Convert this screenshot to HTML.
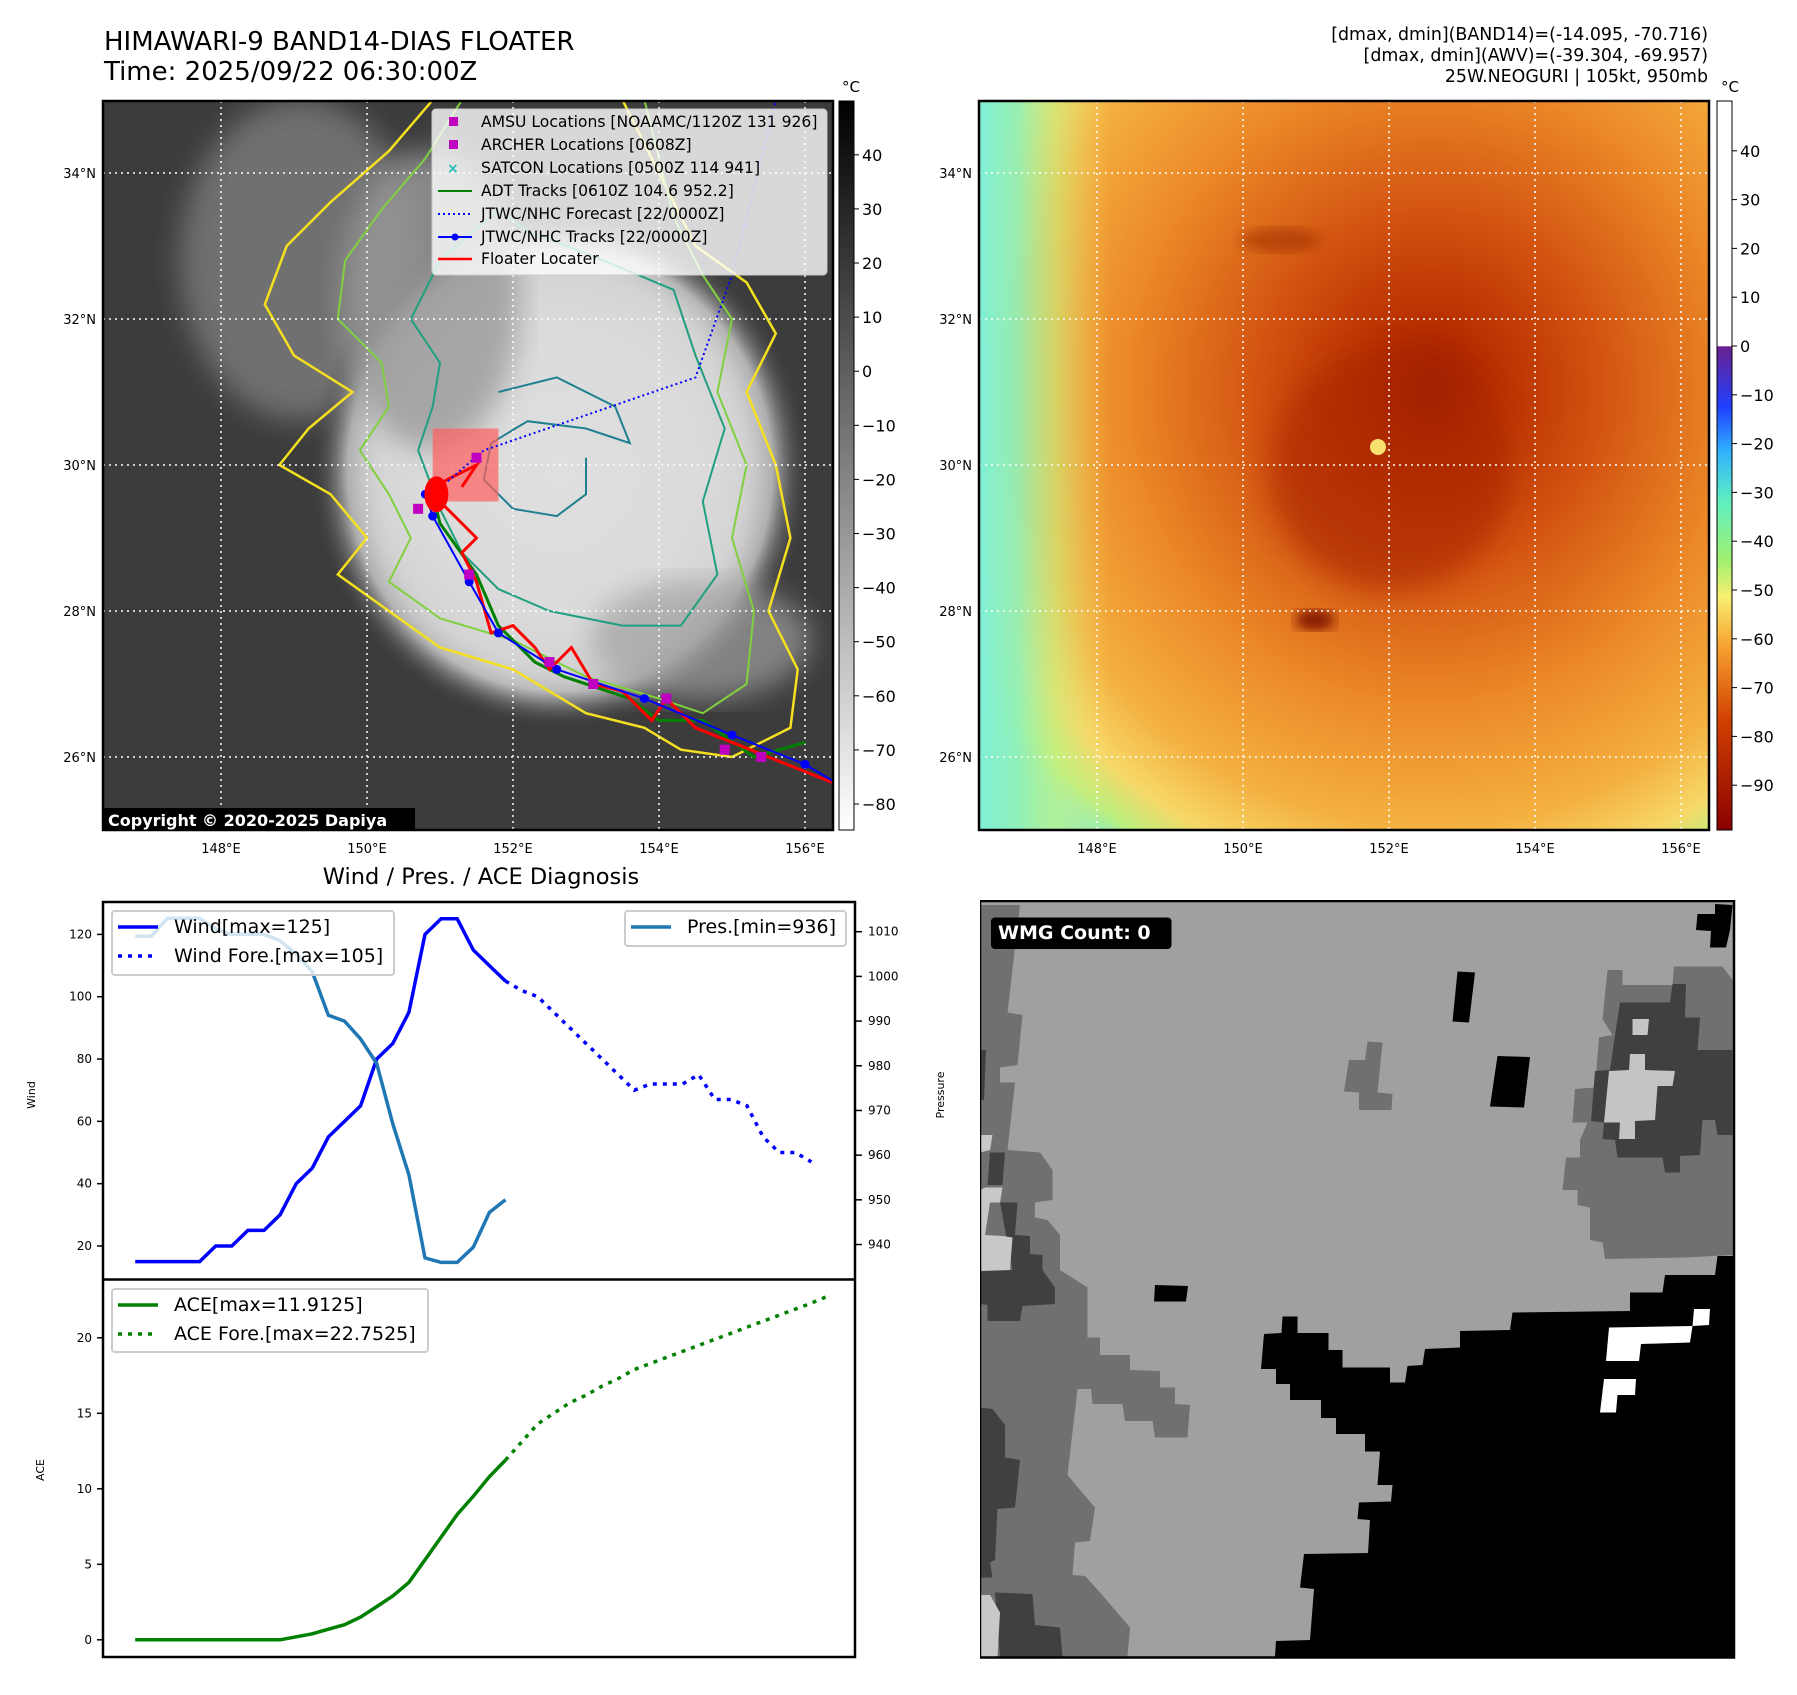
<!DOCTYPE html>
<html><head><meta charset="utf-8">
<style>
html,body{margin:0;padding:0;background:#fff;}
body{width:1797px;height:1690px;position:relative;overflow:hidden;font-family:"Liberation Sans","DejaVu Sans",sans-serif;}
svg text{font-family:"DejaVu Sans","Liberation Sans",sans-serif;}
</style></head>
<body>
<svg id="root" width="1797" height="1690" viewBox="0 0 1797 1690" xmlns="http://www.w3.org/2000/svg">
<defs>
  <filter id="blur6"><feGaussianBlur stdDeviation="6"/></filter>
  <filter id="blur14"><feGaussianBlur stdDeviation="14"/></filter>
  <radialGradient id="cloud" cx="0.5" cy="0.5" r="0.5">
    <stop offset="0" stop-color="#eeeeee"/>
    <stop offset="0.55" stop-color="#d8d8d8"/>
    <stop offset="0.85" stop-color="#a8a8a8"/>
    <stop offset="1" stop-color="#3c3c3c" stop-opacity="0"/>
  </radialGradient>
  <radialGradient id="awv" cx="0.5" cy="0.5" r="0.5">
    <stop offset="0" stop-color="#9a1800"/>
    <stop offset="0.12" stop-color="#b83000"/>
    <stop offset="0.3" stop-color="#d25210"/>
    <stop offset="0.55" stop-color="#ec8a28"/>
    <stop offset="0.75" stop-color="#f4b040"/>
    <stop offset="0.86" stop-color="#f6d868"/>
    <stop offset="0.93" stop-color="#b8f080"/>
    <stop offset="1" stop-color="#80f0d8" stop-opacity="0"/>
  </radialGradient>
  <linearGradient id="leftEdge" x1="0" y1="0" x2="1" y2="0">
    <stop offset="0" stop-color="#80f0d8" stop-opacity="1"/>
    <stop offset="0.3" stop-color="#90f0b8" stop-opacity="0.9"/>
    <stop offset="0.6" stop-color="#c8f080" stop-opacity="0.6"/>
    <stop offset="1" stop-color="#f6e070" stop-opacity="0"/>
  </linearGradient>
  <linearGradient id="cbGray" x1="0" y1="0" x2="0" y2="1">
    <stop offset="0" stop-color="#000"/><stop offset="1" stop-color="#fff"/>
  </linearGradient>
  <linearGradient id="cbAwv" x1="0" y1="0" x2="0" y2="1">
    <stop offset="0" stop-color="#ffffff"/><stop offset="0.336" stop-color="#ffffff"/>
    <stop offset="0.337" stop-color="#6a2090"/><stop offset="0.42" stop-color="#2040ff"/>
    <stop offset="0.48" stop-color="#30b0ff"/><stop offset="0.55" stop-color="#60f0c0"/>
    <stop offset="0.63" stop-color="#a0f070"/><stop offset="0.68" stop-color="#f8f070"/>
    <stop offset="0.75" stop-color="#f8a030"/><stop offset="0.85" stop-color="#d04000"/>
    <stop offset="1" stop-color="#8a0000"/>
  </linearGradient>
  <clipPath id="clipL"><rect x="103" y="101" width="730" height="729"/></clipPath>
  <clipPath id="clipR"><rect x="979" y="101" width="730" height="729"/></clipPath>
</defs>

<text x="104" y="50" font-size="26">HIMAWARI-9 BAND14-DIAS FLOATER</text>
<text x="104" y="80" font-size="26">Time: 2025/09/22 06:30:00Z</text>
<g font-size="17.4" text-anchor="end">
  <text x="1708" y="40">[dmax, dmin](BAND14)=(-14.095, -70.716)</text>
  <text x="1708" y="61">[dmax, dmin](AWV)=(-39.304, -69.957)</text>
  <text x="1708" y="82">25W.NEOGURI | 105kt, 950mb</text>
</g>

<g id="leftMap" clip-path="url(#clipL)">
  <rect x="103" y="101" width="730" height="729" fill="#3c3c3c"/>
  <ellipse cx="300" cy="260" rx="120" ry="160" fill="#707070" filter="url(#blur14)"/>
  <ellipse cx="560" cy="470" rx="250" ry="260" fill="url(#cloud)"/>
  <ellipse cx="560" cy="470" rx="200" ry="220" fill="#dcdcdc" filter="url(#blur14)" opacity="0.8"/>
  <ellipse cx="430" cy="300" rx="90" ry="150" fill="#9a9a9a" filter="url(#blur14)" opacity="0.8"/>
  <ellipse cx="700" cy="640" rx="110" ry="60" fill="#a0a0a0" filter="url(#blur14)" opacity="0.7"/>
</g>
<g id="leftOverlay" clip-path="url(#clipL)"></g>
<rect x="103" y="101" width="730" height="729" fill="none" stroke="#000" stroke-width="2.5"/>
<g>
  <rect x="103" y="808" width="312" height="23" fill="#000"/>
  <text x="108" y="826" font-size="16" font-weight="bold" fill="#fff">Copyright © 2020-2025 Dapiya</text>
</g>

<g>
  <rect x="432" y="109" width="395" height="166" rx="4" fill="#fff" fill-opacity="0.8" stroke="#ccc"/>
  <g font-size="15.6">
    <rect x="449" y="117" width="9" height="9" fill="#c000c0"/><text x="481" y="127">AMSU Locations [NOAAMC/1120Z 131 926]</text>
    <rect x="449" y="140" width="9" height="9" fill="#c000c0"/><text x="481" y="150">ARCHER Locations [0608Z]</text>
    <text x="447" y="173" font-size="14" fill="#20c0c0" font-weight="bold">×</text><text x="481" y="173">SATCON Locations [0500Z 114 941]</text>
    <line x1="438" y1="191" x2="472" y2="191" stroke="#008000" stroke-width="2"/><text x="481" y="196">ADT Tracks [0610Z 104.6 952.2]</text>
    <line x1="438" y1="214" x2="472" y2="214" stroke="#0000ff" stroke-width="2" stroke-dasharray="2 3"/><text x="481" y="219">JTWC/NHC Forecast [22/0000Z]</text>
    <line x1="438" y1="237" x2="472" y2="237" stroke="#0000ff" stroke-width="2"/><circle cx="455" cy="237" r="3.5" fill="#0000ff"/><text x="481" y="242">JTWC/NHC Tracks [22/0000Z]</text>
    <line x1="438" y1="259" x2="472" y2="259" stroke="#ff0000" stroke-width="2.5"/><text x="481" y="264">Floater Locater</text>
  </g>
</g>

<rect x="839" y="101" width="15" height="729" fill="url(#cbGray)" stroke="#000" stroke-width="1"/>
<text x="851" y="92" font-size="15" text-anchor="middle">°C</text>
<g id="cbL" font-size="16"></g>

<g clip-path="url(#clipR)">
  <rect x="979" y="101" width="730" height="729" fill="#80f0d8"/>
  <ellipse cx="1090" cy="760" rx="180" ry="160" fill="#90f0b0" filter="url(#blur14)" opacity="0.6"/>
  <ellipse cx="1430" cy="390" rx="560" ry="580" fill="url(#awv)"/>
  <rect x="979" y="101" width="130" height="729" fill="url(#leftEdge)"/>
  <ellipse cx="1390" cy="470" rx="120" ry="120" fill="#a82800" filter="url(#blur14)" opacity="0.6"/>
  <circle cx="1378" cy="447" r="8" fill="#f8e070"/>
  <ellipse cx="1315" cy="620" rx="20" ry="10" fill="#801400" filter="url(#blur6)"/>
  <ellipse cx="1280" cy="240" rx="40" ry="12" fill="#a03000" filter="url(#blur6)" opacity="0.6"/>
</g>
<g id="rightOverlay" clip-path="url(#clipR)"></g>
<rect x="979" y="101" width="730" height="729" fill="none" stroke="#000" stroke-width="2.5"/>
<rect x="1717" y="101" width="15" height="729" fill="url(#cbAwv)" stroke="#000" stroke-width="1"/>
<text x="1730" y="92" font-size="15" text-anchor="middle">°C</text>
<g id="cbR" font-size="16"></g>

<text x="481" y="884" font-size="22.5" text-anchor="middle">Wind / Pres. / ACE Diagnosis</text>
<g id="chart"></g>

<g>
<svg x="980" y="900" width="780" height="780" viewBox="0 0 1560 1560">
  <rect x="0" y="0" width="1508" height="1513" fill="#a0a0a0"/>
  <polygon fill="#707070" points="0,10 80,10 55,225 85,230 75,330 40,335 40,365 70,365 55,500 120,505 145,540 145,600 110,605 110,635 135,640 160,670 160,740 215,775 215,875 240,875 240,910 300,910 300,940 360,942 360,975 390,975 390,1008 420,1010 415,1075 350,1075 345,1042 290,1042 285,1008 225,1008 222,978 195,978 175,1150 200,1180 230,1215 220,1282 190,1285 185,1350 210,1352 240,1385 270,1420 300,1455 295,1513 0,1513"/>
  <polygon fill="#404040" points="20,505 50,505 45,570 15,570"/>
  <polygon fill="#404040" points="40,605 75,605 70,670 100,672 100,708 125,710 125,740 150,775 150,808 85,812 80,842 15,842 15,810 0,808 0,742 65,740"/>
  <polygon fill="#404040" points="0,1015 25,1018 50,1050 50,1115 80,1120 70,1215 35,1218 30,1320 20,1325 25,1355 0,1355"/>
  <polygon fill="#404040" points="30,1385 105,1388 110,1450 160,1455 165,1513 40,1513"/>
  <polygon fill="#404040" points="0,300 12,300 8,400 0,400"/>
  <polygon fill="#c8c8c8" points="0,470 25,470 20,500 0,505"/>
  <polygon fill="#c8c8c8" points="10,575 45,575 40,605 20,605 10,670 45,672 65,675 60,740 0,742 0,580"/>
  <polygon fill="#c8c8c8" points="0,1390 20,1390 40,1425 35,1513 0,1513"/>
  <polygon fill="#707070" points="1255,140 1285,140 1285,170 1385,170 1388,133 1485,133 1505,160 1505,710 1410,715 1250,718 1245,685 1220,680 1220,615 1195,610 1195,580 1165,580 1172,515 1200,515 1200,480 1215,445 1185,445 1190,378 1230,375 1238,275 1265,270 1245,238"/>
  <polygon fill="#404040" points="1280,205 1380,205 1385,168 1412,168 1410,235 1440,235 1435,300 1505,300 1505,470 1475,470 1470,440 1445,440 1440,510 1400,512 1400,545 1370,545 1365,515 1275,515 1270,480 1245,478 1248,445 1222,442 1230,342 1260,340 1270,270"/>
  <polygon fill="#c4c4c4" points="1305,238 1338,238 1335,270 1305,270"/>
  <polygon fill="#c4c4c4" points="1300,308 1330,308 1330,340 1390,342 1385,372 1355,372 1350,440 1310,442 1310,478 1278,478 1280,445 1248,445 1258,342 1298,340"/>
  <polygon fill="#707070" points="775,283 805,285 795,385 825,388 823,420 758,420 758,385 728,383 738,320 770,320"/>
  <polygon fill="#000" points="955,143 990,145 978,245 945,243"/>
  <polygon fill="#000" points="1035,312 1100,314 1088,415 1020,413"/>
  <polygon fill="#000" points="350,770 416,772 412,803 348,803"/>
  <polygon fill="#000" points="1435,28 1470,28 1470,8 1505,10 1500,60 1492,95 1460,95 1462,62 1432,60"/>
  <polygon fill="#000" points="1508,712 1475,712 1470,750 1370,750 1365,785 1300,785 1300,822 1065,825 1060,860 960,862 960,895 890,898 885,930 855,932 850,965 820,965 820,935 725,935 725,900 697,900 697,866 635,866 635,833 605,833 603,866 568,868 562,938 592,938 592,968 620,968 620,1000 682,1000 682,1036 712,1036 712,1068 770,1068 770,1103 800,1103 795,1170 825,1170 822,1203 758,1205 755,1238 780,1240 776,1306 648,1308 640,1375 668,1378 660,1480 592,1482 590,1513 1508,1513"/>
  <polygon fill="#fff" points="1258,855 1425,852 1420,885 1322,888 1318,922 1252,922"/>
  <polygon fill="#fff" points="1428,818 1460,818 1458,850 1425,852"/>
  <polygon fill="#fff" points="1248,958 1312,958 1310,990 1275,990 1272,1025 1240,1025"/>
  <rect x="0" y="2" width="1508" height="1513" fill="none" stroke="#000" stroke-width="5"/>
  <rect x="22" y="35" width="361" height="63" rx="8" fill="#000"/>
  <text x="36" y="78" font-size="38" font-weight="bold" fill="#fff">WMG Count: 0</text>
</svg>
</g>
</svg>

<script>
// ===== chart data =====
const windObs = [15,15,15,15,15,20,20,25,25,30,40,45,55,60,65,80,85,95,120,125,125,115,110,105];
const windFore = [105,102,100,95,90,85,80,75,70,72,72,72,75,67,67,65,55,50,50,47];
const presObs = [1009,1009,1013,1013,1013,1010.6,1009.4,1009.4,1009.4,1008,1005,1001,991.3,990,986,980.5,967,955.6,937,936,936,939.4,947.2,950];
const aceObs = [0,0,0,0,0,0,0,0,0,0,0.2,0.4,0.7,1.0,1.5,2.2,2.9,3.8,5.3,6.8,8.3,9.5,10.8,11.9];
const aceFore = [11.9,13.1,14.3,15.0,15.7,16.2,16.8,17.3,17.9,18.3,18.7,19.1,19.5,19.9,20.3,20.7,21.1,21.5,21.9,22.3,22.75];
const windTicks = [20,40,60,80,100,120];
const presTicks = [940,950,960,970,980,990,1000,1010];
const aceTicks = [0,5,10,15,20];
const irTicks = [40,30,20,10,0,-10,-20,-30,-40,-50,-60,-70,-80];
const awvTicks = [40,30,20,10,0,-10,-20,-30,-40,-50,-60,-70,-80,-90];
// ===== map data (lon, lat) =====
const jtwcTrack = [[156.5,25.6],[156.0,25.9],[155.0,26.3],[153.8,26.8],[152.6,27.2],[151.8,27.7],[151.4,28.4],[150.9,29.3],[150.8,29.6]];
const jtwcFore = [[150.9,29.6],[151.6,30.2],[154.5,31.2],[155.0,32.6],[155.6,35.0]];
const adtTrack = [[156.0,26.2],[155.3,26.0],[154.6,26.5],[154.0,26.5],[153.6,26.8],[152.7,27.1],[152.3,27.3],[151.8,27.8],[151.5,28.5],[151.0,29.2],[150.9,29.6]];
const floaterTrack = [[156.5,25.6],[155.5,26.0],[154.5,26.4],[154.1,26.8],[153.9,26.5],[153.5,26.9],[153.1,27.0],[152.8,27.5],[152.5,27.2],[152.3,27.5],[152.0,27.8],[151.7,27.7],[151.5,28.4],[151.3,28.8],[151.5,29.0],[151.2,29.3],[151.0,29.5],[150.8,29.6],[151.1,29.8],[151.5,30.0],[151.3,29.7]];
const amsuPts = [[150.7,29.4],[151.5,30.1],[151.4,28.5],[154.9,26.1],[155.4,26.0],[153.1,27.0],[154.1,26.8],[152.5,27.3]];
const yellowContour = [[150.9,35.0],[150.3,34.3],[149.5,33.6],[148.9,33.0],[148.6,32.2],[149.0,31.5],[149.8,31.0],[149.2,30.5],[148.8,30.0],[149.5,29.6],[150.0,29.0],[149.6,28.5],[150.3,28.0],[151.0,27.5],[152.0,27.2],[153.0,26.6],[153.8,26.4],[154.3,26.1],[155.0,26.0],[155.8,26.4],[155.9,27.2],[155.5,28.0],[155.8,29.0],[155.6,30.0],[155.2,31.0],[155.6,31.8],[155.2,32.5],[154.5,33.0],[154.0,34.0],[153.5,35.0]];
const greenContour = [[151.3,35.0],[150.8,34.2],[150.2,33.5],[149.7,32.8],[149.6,32.0],[150.2,31.4],[150.3,30.8],[149.9,30.2],[150.3,29.6],[150.6,29.0],[150.3,28.4],[151.0,27.9],[152.0,27.6],[153.0,27.1],[154.0,26.8],[154.6,26.6],[155.2,27.0],[155.3,28.0],[155.0,29.0],[155.2,30.0],[154.8,31.0],[155.0,32.0],[154.6,32.6],[154.2,33.4],[153.8,35.0]];
const tealContour = [[151.8,33.5],[151.0,32.8],[150.6,32.0],[151.0,31.4],[150.9,30.8],[150.7,30.2],[151.0,29.4],[151.3,28.8],[151.8,28.3],[152.5,28.0],[153.5,27.8],[154.3,27.8],[154.8,28.5],[154.6,29.5],[154.9,30.5],[154.5,31.5],[154.2,32.4],[153.0,32.9],[152.2,33.2],[151.8,33.5]];
const eyeContour = [[151.8,31.0],[152.6,31.2],[153.4,30.8],[153.6,30.3],[153.0,30.5],[152.2,30.6],[151.7,30.3],[151.6,29.8],[152.0,29.4],[152.6,29.3],[153.0,29.6],[153.0,30.1]];

const NS='http://www.w3.org/2000/svg';
function mk(tag, attrs, parent){const e=document.createElementNS(NS,tag);for(const k in attrs)e.setAttribute(k,attrs[k]);parent.appendChild(e);return e;}

const lonX = lon => 805 - (156 - lon) * 73;
const latY = lat => 173 + (34 - lat) * 73;
const OFFR = 876;
function pts(arr, off){return arr.map(p=>(lonX(p[0])+off).toFixed(1)+','+latY(p[1]).toFixed(1)).join(' ');}

const L=document.getElementById('leftOverlay');
const R=document.getElementById('rightOverlay');
let c;
c=mk('polyline',{points:pts(yellowContour,0),fill:'none',stroke:'#f4e020','stroke-width':2.5},L);


c=mk('polyline',{points:pts(greenContour,0),fill:'none',stroke:'#80d040','stroke-width':2},L);


c=mk('polyline',{points:pts(tealContour,0),fill:'none',stroke:'#20a080','stroke-width':2},L);


c=mk('polyline',{points:pts(eyeContour,0),fill:'none',stroke:'#208090','stroke-width':2},L);



[148,150,152,154,156].forEach(lon=>{
  [0,OFFR].forEach(off=>{
    const g=mk('line',{x1:lonX(lon)+off,y1:101,x2:lonX(lon)+off,y2:830,stroke:'#fff','stroke-width':1.5,'stroke-dasharray':'2 4'},off?R:L);
    
    
    const t=mk('text',{x:lonX(lon)+off,y:853,'font-size':13,'text-anchor':'middle'},document.getElementById('root'));
    t.textContent=lon+'°E';
    
    
  });
});
[26,28,30,32,34].forEach(lat=>{
  [0,OFFR].forEach(off=>{
    const g=mk('line',{x1:103+off,y1:latY(lat),x2:833+off,y2:latY(lat),stroke:'#fff','stroke-width':1.5,'stroke-dasharray':'2 4'},off?R:L);
    
    
    const t=mk('text',{x:96+off,y:latY(lat)+5,'font-size':13,'text-anchor':'end'},document.getElementById('root'));
    t.textContent=lat+'°N';
    
    
  });
});

c=mk('rect',{x:lonX(150.9),y:latY(30.5),width:lonX(151.8)-lonX(150.9),height:latY(29.5)-latY(30.5),fill:'#ff6060','fill-opacity':0.7},L);


c=mk('polyline',{points:pts(adtTrack,0),fill:'none',stroke:'#008000','stroke-width':3},L);


c=mk('polyline',{points:pts(floaterTrack,0),fill:'none',stroke:'#ff0000','stroke-width':3},L);


c=mk('polyline',{points:pts(jtwcFore,0),fill:'none',stroke:'#0000ff','stroke-width':2,'stroke-dasharray':'2 3'},L);


c=mk('polyline',{points:pts(jtwcTrack,0),fill:'none',stroke:'#0000ff','stroke-width':2},L);


jtwcTrack.forEach(p=>{
  const d=mk('circle',{cx:lonX(p[0]),cy:latY(p[1]),r:4.5,fill:'#0000ff'},L);
  
  
});
amsuPts.forEach(p=>{
  const d=mk('rect',{x:lonX(p[0])-5,y:latY(p[1])-5,width:10,height:10,fill:'#c000c0'},L);
  
  
});
c=mk('ellipse',{cx:lonX(150.95),cy:latY(29.6),rx:12,ry:18,fill:'#ff0000'},L);



const cbL=document.getElementById('cbL');
irTicks.forEach(v=>{
  const y=804-(v+80)*5.41;
  mk('line',{x1:854,y1:y,x2:859,y2:y,stroke:'#000'},cbL);
  const t=mk('text',{x:862,y:y+6},cbL); t.textContent=(v<0?'\u2212'+(-v):v);
  
  
});
const cbR=document.getElementById('cbR');
awvTicks.forEach(v=>{
  const y=346-v*4.88;
  mk('line',{x1:1732,y1:y,x2:1737,y2:y,stroke:'#000'},cbR);
  const t=mk('text',{x:1740,y:y+6},cbR); t.textContent=(v<0?'\u2212'+(-v):v);
  
  
});

// ===== chart =====
const CH=document.getElementById('chart');
const xs = i => 135.2 + i * 16.1;
const yW = v => 934.4 - (v - 120) * 3.116;
const yP = p => 931.7 - (p - 1010) * 4.469;
const yA = a => 1639.8 - a * 15.1;
function line(vals, start, yf, attrs, name){
  const p=vals.map((v,i)=>xs(start+i).toFixed(1)+','+yf(v).toFixed(1)).join(' ');
  const e=mk('polyline',Object.assign({points:p,fill:'none'},attrs),CH);
  
  
}
let f=mk('rect',{x:103,y:902,width:752,height:755,fill:'#fff',stroke:'#000','stroke-width':2.5},CH);


mk('line',{x1:103,y1:1279.5,x2:855,y2:1279.5,stroke:'#000','stroke-width':2.5},CH);
windTicks.forEach(v=>{
  mk('line',{x1:97,y1:yW(v),x2:103,y2:yW(v),stroke:'#000','stroke-width':1.5},CH);
  const t=mk('text',{x:92,y:yW(v)+4,'font-size':12,'text-anchor':'end'},CH); t.textContent=v;
  
  
});
presTicks.forEach(v=>{
  mk('line',{x1:855,y1:yP(v),x2:862,y2:yP(v),stroke:'#000','stroke-width':1.5},CH);
  const t=mk('text',{x:868,y:yP(v)+4,'font-size':12},CH); t.textContent=v;
  
  
});
aceTicks.forEach(v=>{
  mk('line',{x1:97,y1:yA(v),x2:103,y2:yA(v),stroke:'#000','stroke-width':1.5},CH);
  const t=mk('text',{x:92,y:yA(v)+4,'font-size':12,'text-anchor':'end'},CH); t.textContent=v;
  
  
});
let t;
t=mk('text',{x:0,y:0,'font-size':11,'text-anchor':'middle',transform:'translate(35,1095) rotate(-90)'},CH); t.textContent='Wind';


t=mk('text',{x:0,y:0,'font-size':11,'text-anchor':'middle',transform:'translate(944,1095) rotate(-90)'},CH); t.textContent='Pressure';


t=mk('text',{x:0,y:0,'font-size':11,'text-anchor':'middle',transform:'translate(44,1470) rotate(-90)'},CH); t.textContent='ACE';



line(windObs,0,yW,{stroke:'#0000ff','stroke-width':3.5,'stroke-linejoin':'miter'},'wind-line');
line(windFore,windObs.length-1,yW,{stroke:'#0000ff','stroke-width':3.5,'stroke-dasharray':'4 6'},'wind-forecast-line');
line(presObs,0,yP,{stroke:'#1f77b4','stroke-width':3.5},'pressure-line');
line(aceObs,0,yA,{stroke:'#008000','stroke-width':3.5},'ace-line');
line(aceFore,aceObs.length-1,yA,{stroke:'#008000','stroke-width':3.5,'stroke-dasharray':'4 6'},'ace-forecast-line');

function legend(x,y,w,h,items,name){
  const g=mk('g',{},CH);
  
  
  mk('rect',{x:x,y:y,width:w,height:h,rx:3,fill:'#fff','fill-opacity':0.8,stroke:'#ccc','stroke-width':2},g);
  items.forEach((it,i)=>{
    const ly=y+16+i*29;
    mk('line',Object.assign({x1:x+6,y1:ly,x2:x+46,y2:ly,'stroke-width':3.5},it.s),g);
    const tt=mk('text',{x:x+62,y:ly+6,'font-size':19},g); tt.textContent=it.label;
  });
}
legend(112,911,282,64,[{s:{stroke:'#0000ff'},label:'Wind[max=125]'},{s:{stroke:'#0000ff','stroke-dasharray':'4 6'},label:'Wind Fore.[max=105]'}],'wind-legend');
legend(625,911,221,35,[{s:{stroke:'#1f77b4'},label:'Pres.[min=936]'}],'pressure-legend');
legend(112,1289,316,63,[{s:{stroke:'#008000'},label:'ACE[max=11.9125]'},{s:{stroke:'#008000','stroke-dasharray':'4 6'},label:'ACE Fore.[max=22.7525]'}],'ace-legend');
</script>
</body></html>
